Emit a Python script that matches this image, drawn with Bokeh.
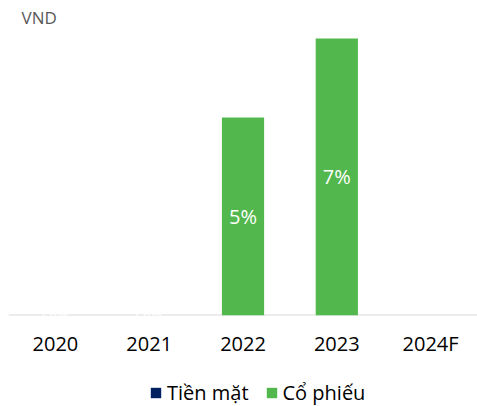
from bokeh.plotting import figure
from bokeh.layouts import column
from bokeh.models import ColumnDataSource, Span, Legend, LegendItem, Range1d, FactorRange
from bokeh.core.properties import value
from bokeh.embed import file_html
from bokeh.resources import INLINE

years = ["2020", "2021", "2022", "2023", "2024F"]
cash = [0, 0, 0, 0, 0]
stock = [0, 0, 5, 7, 0]
labels_cash = ["0%", "0%", "", "", ""]
labels_stock = ["", "", "5%", "7%", ""]
series_names = ["Tiền mặt", "Cổ phiếu"]

FONT = "Open Sans"
C_CASH = "#002060"
C_STOCK = "#52b74c"

src = ColumnDataSource(dict(
    years=years, cash=cash, stock=stock,
    cash_mid=[c / 2 for c in cash],
    stock_mid=[c + s / 2 for c, s in zip(cash, stock)],
    lab_c=labels_cash, lab_s=labels_stock,
))

p = figure(x_range=FactorRange(*years), y_range=Range1d(0, 7.2),
           frame_width=469, frame_height=285, output_backend="svg", toolbar_location=None,
           min_border_left=8, min_border_right=0, min_border_top=30, min_border_bottom=50)
p.outline_line_color = None
p.grid.grid_line_color = None
p.yaxis.visible = False
p.x_range.range_padding = 0

p.title.text = "VND"
p.title.text_font = FONT
p.title.text_font_size = "17px"
p.title.text_font_style = "normal"
p.title.text_color = "#595959"
p.title.offset = 13
p.title.standoff = 4

base = Span(location=0, dimension="width", line_color="#d9d9d9", line_width=2, level="underlay")
p.add_layout(base)

rs = p.vbar_stack(["cash", "stock"], x="years", width=0.45, source=src,
                  color=[C_CASH, C_STOCK], line_color=None)

p.text(x="years", y="cash_mid", text="lab_c", source=src, text_color="white",
       text_font=value(FONT), text_font_size="20px", text_align="center", text_baseline="middle")
p.text(x="years", y="stock_mid", text="lab_s", source=src, text_color="white",
       text_font=value(FONT), text_font_size="20px", text_align="center", text_baseline="middle")

ax = p.xaxis[0]
ax.axis_line_color = None
ax.major_tick_line_color = None
ax.minor_tick_line_color = None
ax.major_label_text_font = FONT
ax.major_label_text_font_size = "20px"
ax.major_label_text_color = "#000000"
ax.major_label_standoff = 8

# legend strip: small figure holding the same stacked series (zero-width, outside
# this strip's y-range, so only the legend swatches show) and the legend itself
lf = figure(width=477, height=41, x_range=FactorRange(*years), y_range=Range1d(-2, -1),
            x_axis_type=None, y_axis_type=None, output_backend="svg", toolbar_location=None,
            min_border_left=0, min_border_right=0, min_border_top=0, min_border_bottom=0)
lf.outline_line_color = None
lf.grid.grid_line_color = None
lrs = lf.vbar_stack(["cash", "stock"], x="years", width=0, source=src,
                    fill_color=[C_CASH, C_STOCK], line_color=None)

legend = Legend(items=[LegendItem(label=series_names[0], renderers=[lrs[0]]),
                       LegendItem(label=series_names[1], renderers=[lrs[1]])],
                orientation="horizontal", location=(141, 0),
                label_text_font=FONT, label_text_font_size="20px",
                label_text_color="#000000",
                glyph_width=13, glyph_height=13, spacing=16, label_standoff=5,
                border_line_color=None, background_fill_alpha=0, padding=2, margin=0)
lf.add_layout(legend)

layout = column(p, lf, spacing=0)
open("out.html", "w").write(file_html(layout, INLINE))
